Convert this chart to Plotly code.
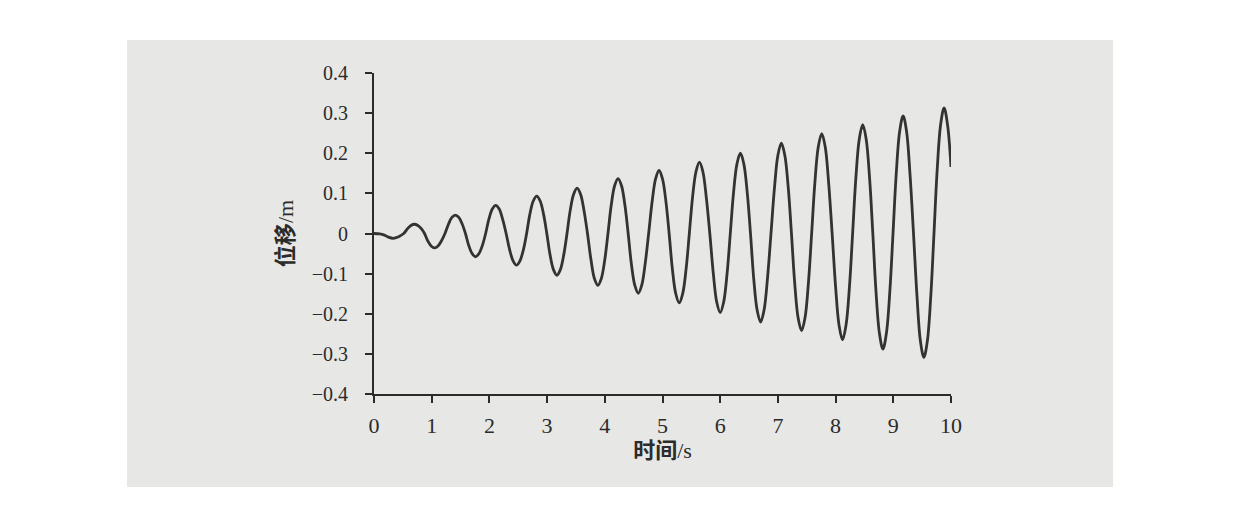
import plotly.graph_objects as go

# Read-off points of the displacement curve
time_s = [0.00, 0.10, 0.18, 0.25, 0.33, 0.39, 0.45, 0.515, 0.58, 0.64,
          0.70, 0.76, 0.82, 0.875, 0.93, 0.99,
          1.05, 1.11, 1.17, 1.23, 1.29, 1.35,
          1.41, 1.47, 1.53, 1.585, 1.64, 1.70,
          1.76, 1.82, 1.88, 1.935, 1.99, 2.05,
          2.11, 2.17, 2.23, 2.29, 2.35, 2.41,
          2.47, 2.53, 2.59, 2.645, 2.70, 2.76,
          2.82, 2.88, 2.94, 2.995, 3.05, 3.11,
          3.17, 3.23, 3.29, 3.345, 3.40, 3.46,
          3.52, 3.58, 3.64, 3.70, 3.76, 3.82,
          3.88, 3.94, 4.00, 4.055, 4.11, 4.17,
          4.23, 4.29, 4.35, 4.405, 4.46, 4.52,
          4.58, 4.64, 4.70, 4.76, 4.82, 4.88,
          4.94, 5.00, 5.06, 5.115, 5.17, 5.23,
          5.29, 5.35, 5.41, 5.465, 5.52, 5.58,
          5.64, 5.70, 5.76, 5.82, 5.88, 5.94,
          6.00, 6.06, 6.12, 6.175, 6.23, 6.29,
          6.35, 6.41, 6.47, 6.525, 6.58, 6.64,
          6.70, 6.76, 6.82, 6.88, 6.94, 7.00,
          7.06, 7.12, 7.18, 7.235, 7.29, 7.35,
          7.41, 7.47, 7.53, 7.585, 7.64, 7.70,
          7.76, 7.82, 7.88, 7.94, 8.00, 8.06,
          8.12, 8.18, 8.24, 8.295, 8.35, 8.41,
          8.47, 8.53, 8.59, 8.645, 8.70, 8.76,
          8.82, 8.88, 8.94, 8.995, 9.05, 9.11,
          9.17, 9.23, 9.29, 9.35, 9.41, 9.47,
          9.53, 9.59, 9.65, 9.705, 9.76, 9.82,
          9.88, 9.94, 10.00]
disp_m = [0.000, -0.001, -0.004, -0.009, -0.012, -0.010, -0.006, 0.000, 0.012, 0.020,
          0.023, 0.020, 0.012, 0.000, -0.018, -0.031,
          -0.036, -0.031, -0.018, 0.000, 0.023, 0.040,
          0.046, 0.040, 0.023, 0.000, -0.029, -0.050,
          -0.058, -0.050, -0.029, 0.000, 0.035, 0.061,
          0.070, 0.061, 0.035, 0.000, -0.040, -0.068,
          -0.079, -0.068, -0.040, 0.000, 0.047, 0.081,
          0.093, 0.081, 0.047, 0.000, -0.052, -0.090,
          -0.104, -0.090, -0.052, 0.000, 0.057, 0.098,
          0.113, 0.098, 0.057, 0.000, -0.065, -0.112,
          -0.129, -0.112, -0.065, 0.000, 0.069, 0.119,
          0.137, 0.119, 0.069, 0.000, -0.075, -0.129,
          -0.149, -0.129, -0.075, 0.000, 0.079, 0.136,
          0.157, 0.136, 0.079, 0.000, -0.087, -0.150,
          -0.173, -0.150, -0.087, 0.000, 0.089, 0.154,
          0.178, 0.154, 0.089, 0.000, -0.099, -0.171,
          -0.197, -0.171, -0.099, 0.000, 0.100, 0.173,
          0.200, 0.173, 0.100, 0.000, -0.111, -0.191,
          -0.221, -0.191, -0.111, 0.000, 0.113, 0.195,
          0.225, 0.195, 0.113, 0.000, -0.121, -0.210,
          -0.242, -0.210, -0.121, 0.000, 0.125, 0.216,
          0.249, 0.216, 0.125, 0.000, -0.133, -0.229,
          -0.265, -0.229, -0.133, 0.000, 0.136, 0.235,
          0.271, 0.235, 0.136, 0.000, -0.144, -0.249,
          -0.288, -0.249, -0.144, 0.000, 0.147, 0.254,
          0.293, 0.254, 0.147, 0.000, -0.155, -0.268,
          -0.309, -0.268, -0.155, 0.000, 0.157, 0.271,
          0.313, 0.271, 0.166]

x_ticks = [0, 1, 2, 3, 4, 5, 6, 7, 8, 9, 10]
y_ticks = [-0.4, -0.3, -0.2, -0.1, 0, 0.1, 0.2, 0.3, 0.4]
y_tick_text = ["\u22120.4", "\u22120.3", "\u22120.2", "\u22120.1", "0", "0.1", "0.2", "0.3", "0.4"]

x_title = "<b>时间</b>/s"
y_title = "<b>位移</b>/m"

ink = "#2b2b2b"
font_fam = "Liberation Serif, Noto Sans CJK SC, serif"

fig = go.Figure()
fig.add_trace(go.Scatter(
    x=time_s, y=disp_m, mode="lines",
    line=dict(color="#333333", width=2.8, shape="spline", smoothing=1.0),
    showlegend=False, hoverinfo="skip"))

fig.update_layout(
    width=1252, height=532,
    margin=dict(l=366, r=309, t=65, b=146),
    paper_bgcolor="white",
    plot_bgcolor="rgba(0,0,0,0)",
    font=dict(family=font_fam, color=ink, size=20),
    shapes=[dict(type="rect", xref="paper", yref="paper",
                 x0=-0.428, x1=1.281, y0=-0.290, y1=1.103,
                 fillcolor="#e7e7e5", line=dict(width=0), layer="below")],
    xaxis=dict(range=[0, 10], tickvals=x_ticks, ticks="outside", ticklen=7,
               tickwidth=1.5, tickcolor=ink, showline=True, linecolor=ink,
               linewidth=1.8, showgrid=False, zeroline=False,
               ticklabelstandoff=4,
               tickfont=dict(size=22, family=font_fam, color=ink),
               title=dict(text=x_title,
                          font=dict(size=22, family=font_fam, color=ink),
                          standoff=4)),
    yaxis=dict(range=[-0.4, 0.4], tickvals=y_ticks, ticktext=y_tick_text,
               ticks="outside", ticklen=7, tickwidth=1.5, tickcolor=ink,
               showline=True, linecolor=ink, linewidth=1.8, showgrid=False,
               zeroline=False, ticklabelstandoff=13,
               tickfont=dict(size=20, family=font_fam, color=ink),
               title=dict(text=y_title,
                          font=dict(size=22, family=font_fam, color=ink),
                          standoff=12)),
)

fig.write_html("out.html")
